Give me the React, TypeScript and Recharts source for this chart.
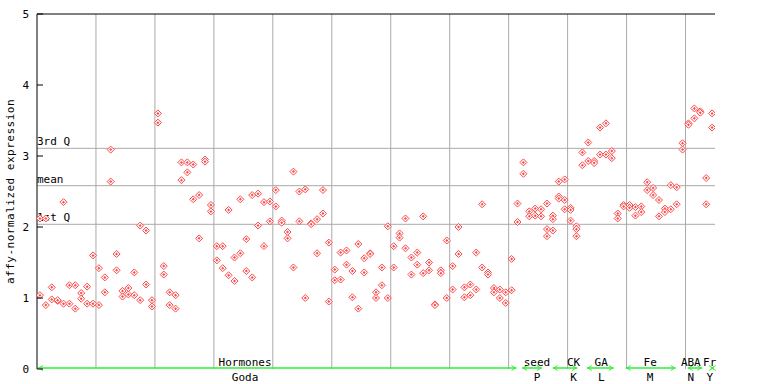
import React from 'react';
import { ScatterChart, Scatter, XAxis, YAxis, ReferenceLine, ReferenceDot, Label } from 'recharts';

// expression values per sample slot (replicates share a slot)
const slotValues: number[][] = [
  [1.04, 2.12], [0.90, 2.12], [1.15, 0.98], [0.96, 0.97], [2.35, 0.92],
  [1.18, 0.92], [1.18, 0.85], [1.07, 0.99], [1.16, 0.92], [1.60, 0.92],
  [1.42, 0.90], [1.29, 1.08], [3.09, 2.64], [1.62, 1.39], [1.10, 1.02],
  [1.14, 1.05], [1.36, 1.04], [2.02, 0.97], [1.95, 1.19], [0.97, 0.88],
  [3.60, 3.47], [1.45, 1.33], [1.08, 0.90], [1.04, 0.85], [2.91, 2.66],
  [2.91, 2.77], [2.88, 2.39], [2.45, 1.84], [2.95, 2.92], [2.31, 2.22],
  [1.73, 1.53], [1.73, 1.42], [2.24, 1.32], [1.57, 1.24], [2.39, 1.63],
  [1.83, 1.38], [2.45, 1.29], [2.47, 2.02], [2.35, 1.73], [2.36, 2.08],
  [2.52, 2.29], [2.09, 2.06], [1.93, 1.84], [2.78, 1.43], [2.50, 2.08],
  [2.53, 1.00], [2.05, 2.04], [2.11, 1.63], [2.52, 2.19], [1.78, 0.95],
  [1.40, 1.25], [1.64, 1.26], [1.67, 1.47], [1.38, 1.01], [1.76, 0.85],
  [1.56, 1.36], [1.63, 1.62], [1.08, 1.00], [1.43, 1.18], [2.01, 1.00],
  [1.73, 1.43], [1.91, 1.85], [2.12, 1.70], [1.57, 1.33], [1.64, 1.47],
  [2.15, 1.35], [1.50, 1.39], [0.91, 0.90], [1.39, 1.35], [1.81, 1.00],
  [1.45, 1.12], [2.00, 1.62], [1.15, 1.01], [1.19, 1.04], [1.64, 1.12],
  [2.32, 1.43], [1.36, 1.33], [1.14, 1.08], [1.12, 1.00], [1.08, 0.93],
  [1.55, 1.11], [2.33, 2.07], [2.91, 2.75], [2.22, 2.15], [2.26, 2.16],
  [2.25, 2.15], [2.33, 1.97, 1.87], [2.16, 2.11, 1.95], [2.64, 2.43, 2.40], [2.67, 2.38, 2.25],
  [2.27, 2.24, 2.09], [2.01, 1.97, 1.87], [3.05, 2.87], [3.19, 2.93], [2.93, 2.90],
  [3.40, 3.02], [3.46, 3.02], [3.07, 2.97], [2.19, 2.12], [2.31, 2.29],
  [2.31, 2.27], [2.28, 2.16], [2.29, 2.21], [2.63, 2.52], [2.55, 2.45],
  [2.38, 2.15], [2.26, 2.21], [2.59, 2.25], [2.56, 2.32], [3.18, 3.09],
  [3.46, 3.44], [3.67, 3.53], [3.63, 3.61], [2.69, 2.32], [3.60, 3.40],
];

const yTicks = [0, 1, 2, 3, 4, 5];
const innerTicks = [1, 2, 3, 4];
const sectionBounds = [9.5, 19.5, 29.5, 39.5, 49.5, 59.5, 69.5, 79.5, 89.5, 99.5, 109.5];

const statNames = ['3rd Q', 'mean', '1st Q'];
const statValues = [3.108, 2.582, 2.038];

const groupTop = ['Hormones', 'seed', 'CK', 'GA', 'Fe', 'ABA', 'Fr'];
const groupBottom = ['Goda', 'P', 'K', 'L', 'M', 'N', 'Y'];
const groupStart = [-0.5, 81.6, 86.8, 92.6, 99.2, 109.7, 113.6];
const groupEnd = [81.0, 85.3, 91.3, 97.5, 108.0, 112.5, 114.5];
const groupLabelAt = [34.8, 84.3, 90.5, 95.2, 103.5, 110.4, 113.6];

const points = slotValues.flatMap((vals, s) => vals.map((v) => ({ x: s, y: v })));

const FONT = '"DejaVu Sans Mono", monospace';
const RED = '#ff4848';
const GRID = '#aaaaaa';
const GREEN = '#33ee33';

const Diamond = (props: any) => {
  const { cx, cy } = props;
  if (cx == null || cy == null) return null;
  const r = 3.5;
  return (
    <g>
      <polygon
        points={`${cx},${cy - r} ${cx + r},${cy} ${cx},${cy + r} ${cx - r},${cy}`}
        fill="#ffffff"
        stroke={RED}
        strokeWidth={1}
      />
      <polygon
        points={`${cx},${cy - 1.5} ${cx + 1.5},${cy} ${cx},${cy + 1.5} ${cx - 1.5},${cy}`}
        fill={RED}
      />
    </g>
  );
};

const LeftTick = (props: any) => {
  const { x, y, payload } = props;
  return (
    <g>
      <text x={x} y={y} dy="0.35em" textAnchor="end" fontFamily={FONT} fontSize={11} fill="#000">
        {payload.value}
      </text>
      <line x1={x + 8} x2={x + 14} y1={y} y2={y} stroke="#000" strokeWidth={1} />
    </g>
  );
};

const RightTick = (props: any) => {
  const { x, y } = props;
  return <line x1={x - 5} x2={x} y1={y} y2={y} stroke="#000" strokeWidth={1} />;
};

const makeStatShape = (name: string) => (props: any) => {
  const { x1, x2, y1, y2 } = props;
  return (
    <g>
      <line x1={x1} x2={x2} y1={y1} y2={y2} stroke={GRID} strokeWidth={1} />
      <text x={x1} y={y1 - 3} fontFamily={FONT} fontSize={11} fill="#000">
        {name}
      </text>
    </g>
  );
};

const GroupSegment = (props: any) => {
  const { x1, x2, y1 } = props;
  const y = y1 - 1;
  return (
    <g>
      <line x1={x1 + 1} x2={x2 - 1} y1={y} y2={y} stroke={GREEN} strokeWidth={1.5} />
      <polyline points={`${x1 + 6},${y - 2.5} ${x1 + 2},${y} ${x1 + 6},${y + 2.5}`} fill="none" stroke={GREEN} strokeWidth={1} />
      <polyline points={`${x2 - 6},${y - 2.5} ${x2 - 2},${y} ${x2 - 6},${y + 2.5}`} fill="none" stroke={GREEN} strokeWidth={1} />
    </g>
  );
};

const makeGroupLabel = (top: string, bottom: string) => (props: any) => {
  const { cx, cy } = props;
  return (
    <g>
      <text x={cx} y={cy - 3} textAnchor="middle" fontFamily={FONT} fontSize={11} fill="#000">
        {top}
      </text>
      <text x={cx} y={cy + 12} textAnchor="middle" fontFamily={FONT} fontSize={11} fill="#000">
        {bottom}
      </text>
    </g>
  );
};

const YLabel = (props: any) => {
  const vb = props.viewBox || {};
  const cx = vb.x + 3;
  const cy = vb.y + vb.height / 2;
  return (
    <text
      x={cx}
      y={cy}
      transform={`rotate(-90 ${cx} ${cy})`}
      textAnchor="middle"
      dominantBaseline="central"
      fontFamily={FONT}
      fontSize={11}
      letterSpacing={0.5}
      fill="#000"
    >
      affy-normalized expression
    </text>
  );
};

export default function App() {
  return (
    <div style={{ position: 'absolute', left: 0, top: 0, width: 768, height: 384, background: '#fff' }}>
      <ScatterChart width={768} height={384} margin={{ top: 14, right: 53, bottom: 15, left: 7 }}>
        <XAxis
          type="number"
          dataKey="x"
          domain={[-0.5, 114.5]}
          ticks={[]}
          tick={false}
          tickLine={false}
          height={0}
          axisLine={{ stroke: '#000', strokeWidth: 1 }}
          allowDataOverflow
        />
        <YAxis
          yAxisId="l"
          type="number"
          dataKey="y"
          domain={[0, 5]}
          ticks={yTicks}
          width={30}
          tickSize={0}
          tickMargin={8}
          tick={<LeftTick />}
          axisLine={{ stroke: '#000', strokeWidth: 1 }}
          allowDataOverflow
        >
          <Label content={<YLabel />} />
        </YAxis>
        <YAxis
          yAxisId="r"
          orientation="right"
          type="number"
          domain={[0, 5]}
          ticks={innerTicks}
          width={0}
          tickSize={0}
          tickMargin={0}
          tick={<RightTick />}
          axisLine={{ stroke: '#000', strokeWidth: 1 }}
          allowDataOverflow
        />
        {sectionBounds.map((b) => (
          <ReferenceLine key={`v${b}`} yAxisId="l" x={b} stroke={GRID} strokeWidth={1} />
        ))}
        {statValues.map((v, i) => (
          <ReferenceLine key={`s${i}`} yAxisId="l" y={v} shape={makeStatShape(statNames[i])} />
        ))}
        <ReferenceLine yAxisId="l" y={5} stroke="#000" strokeWidth={1} />
        {groupStart.map((s, i) => (
          <ReferenceLine
            key={`g${i}`}
            yAxisId="l"
            segment={[{ x: s, y: 0 }, { x: groupEnd[i], y: 0 }]}
            shape={GroupSegment}
            ifOverflow="visible"
          />
        ))}
        {groupLabelAt.map((s, i) => (
          <ReferenceDot
            key={`gl${i}`}
            yAxisId="l"
            x={s}
            y={0}
            ifOverflow="visible"
            shape={makeGroupLabel(groupTop[i], groupBottom[i])}
          />
        ))}
        <Scatter yAxisId="l" data={points} dataKey="y" shape={<Diamond />} isAnimationActive={false} />
      </ScatterChart>
    </div>
  );
}
